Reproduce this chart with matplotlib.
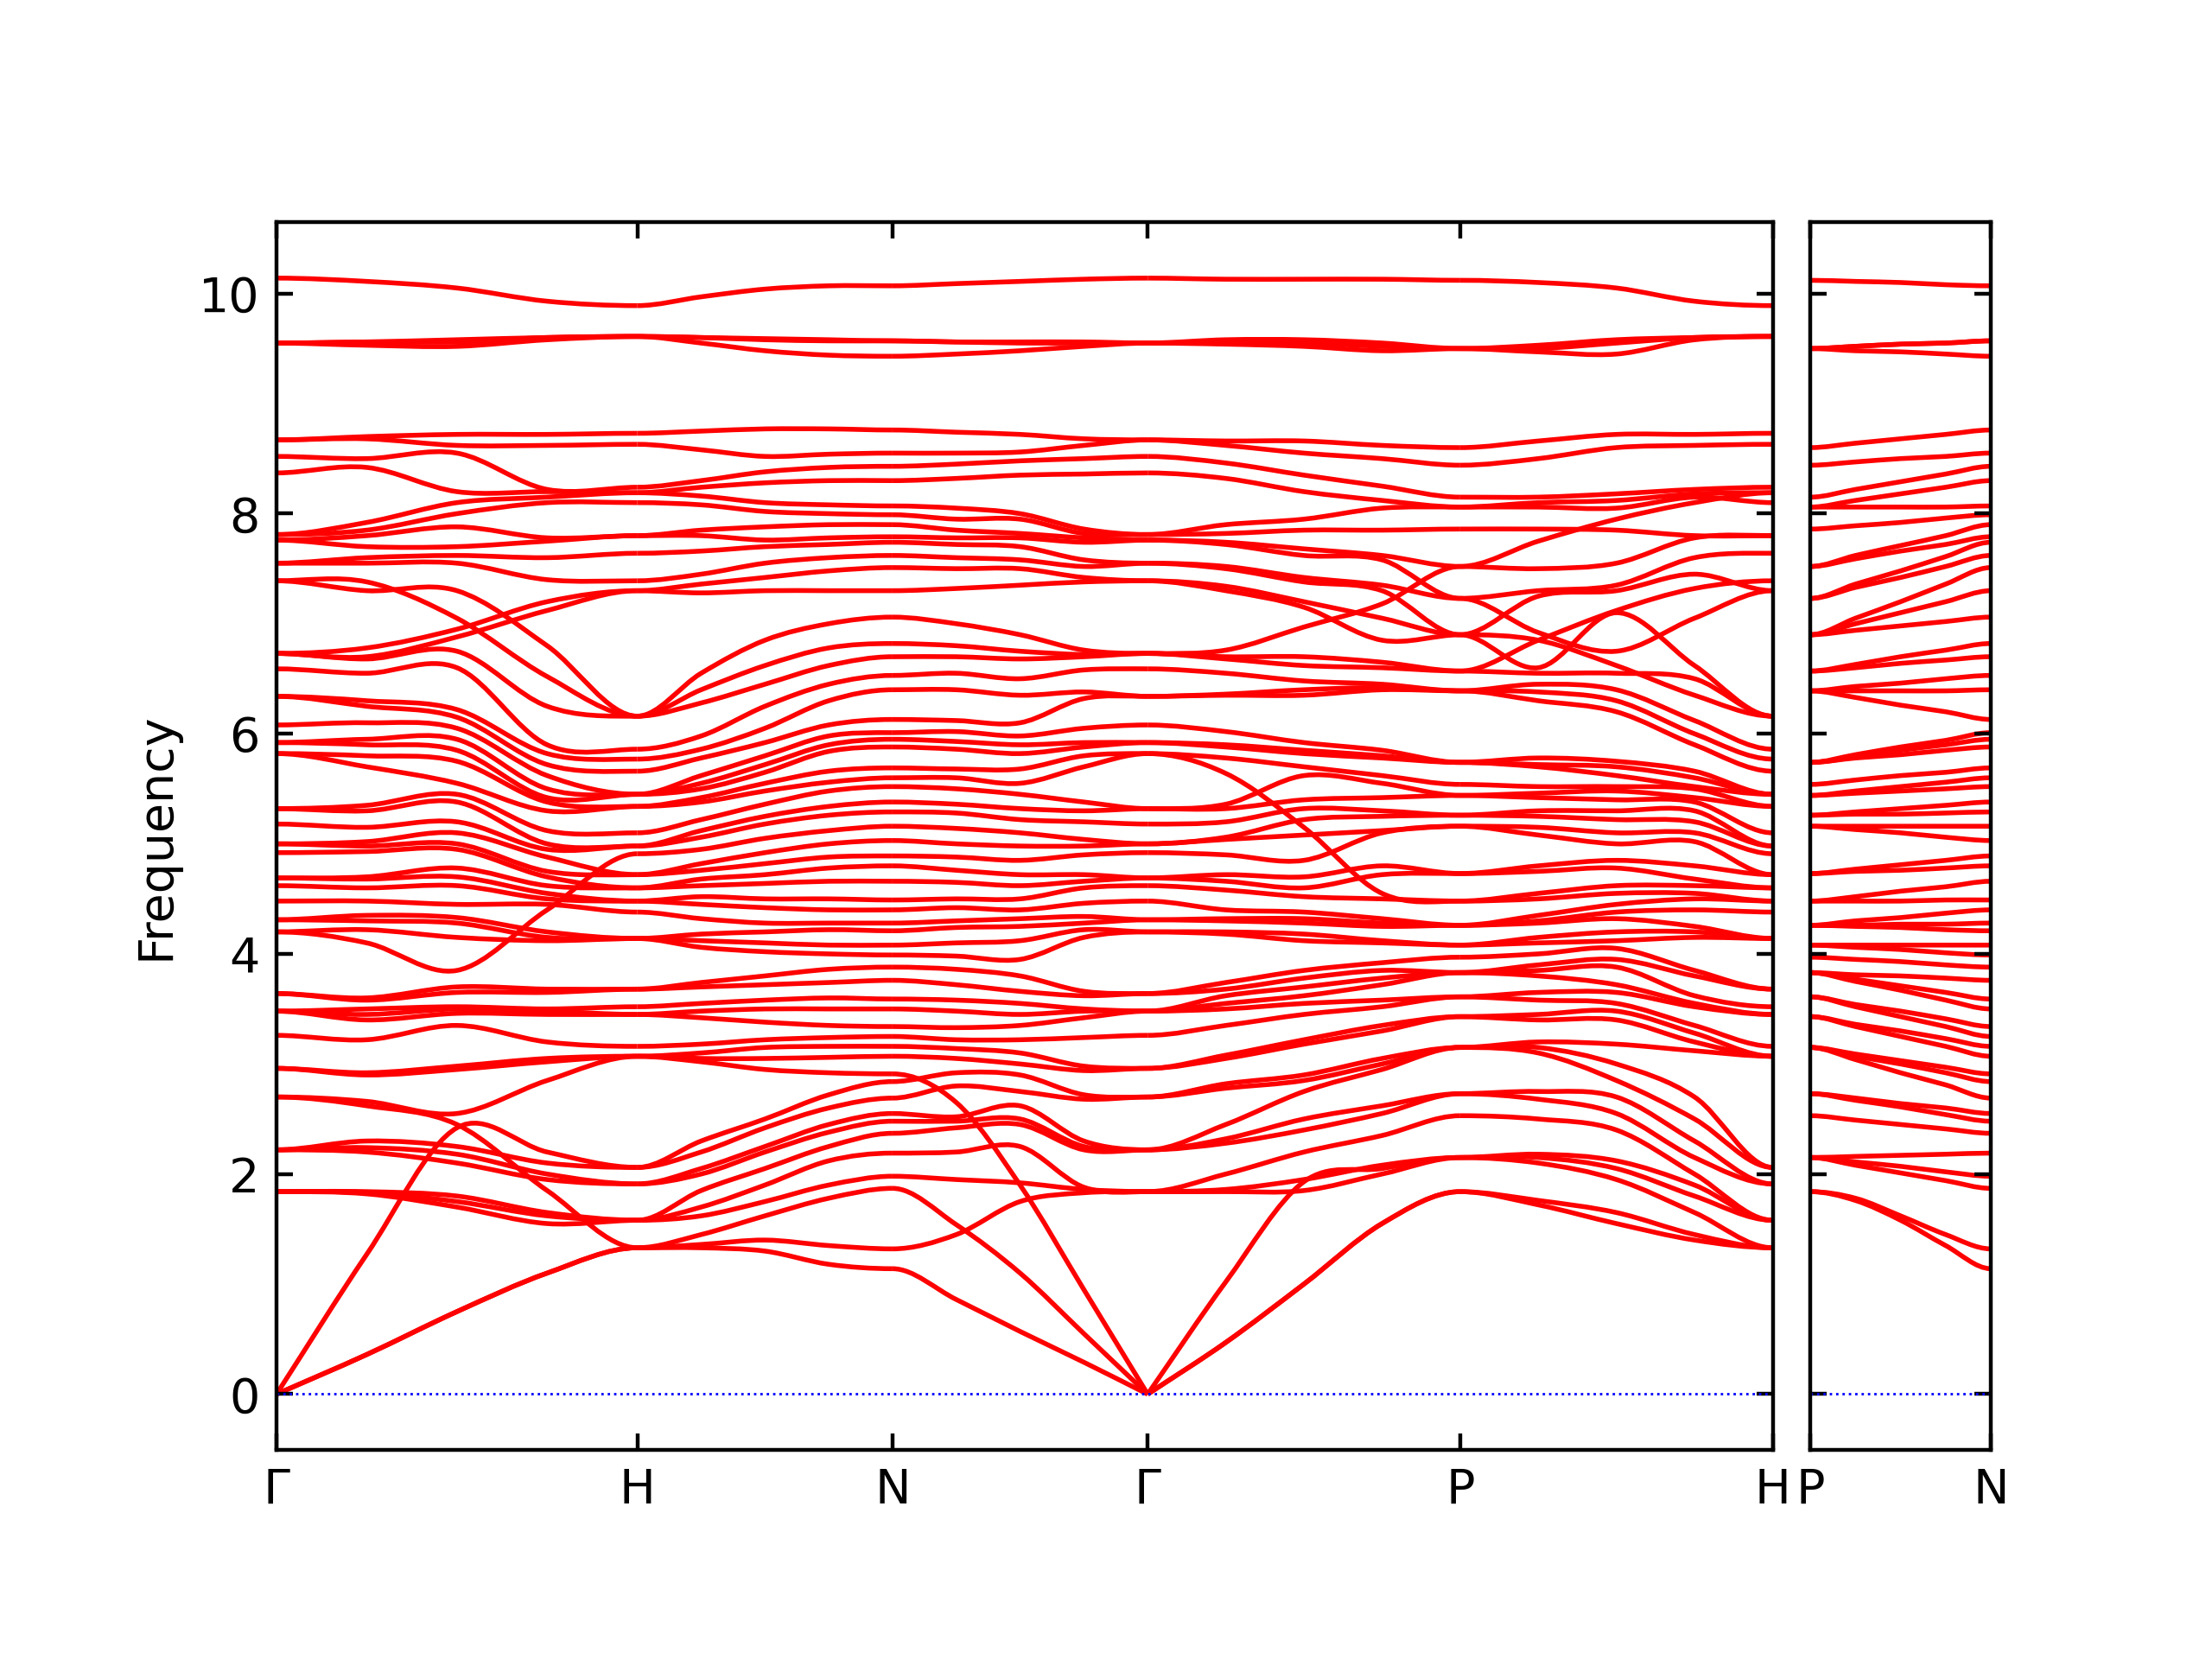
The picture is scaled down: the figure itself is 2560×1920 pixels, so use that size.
import numpy as np
import matplotlib
matplotlib.use("Agg")
import matplotlib.pyplot as plt
from matplotlib.gridspec import GridSpec
from matplotlib.path import Path
from matplotlib.patches import PathPatch

# path labels and segment lengths (2pi/a units, bcc)
main_labels = ["Γ", "H", "N", "Γ", "P", "H"]
side_labels = ["P", "N"]
main_seg_lengths = [1.0, 0.7071, 0.7071, 0.8660, 0.8660]
side_seg_lengths = [0.5]

# frequencies at high-symmetry points (60 bands each)
freq_G = [0, 0, 0, 1.84, 1.84, 1.84, 2.22, 2.22, 2.22, 2.70, 2.70, 2.96, 2.96, 3.26,
          3.48, 3.48, 3.48, 3.64, 3.64, 4.20, 4.20, 4.31, 4.31, 4.48, 4.62, 4.69, 4.69,
          4.92, 5.00, 5.00, 5.18, 5.32, 5.32, 5.82, 5.82, 5.92, 5.92, 6.08, 6.34, 6.34,
          6.59, 6.73, 6.73, 6.73, 7.39, 7.39, 7.55, 7.55, 7.76, 7.76, 7.81, 7.81, 8.37,
          8.52, 8.67, 8.67, 9.55, 9.55, 9.55, 10.14]
freq_H = [1.33, 1.33, 1.33, 1.58, 1.58, 1.58, 1.91, 1.91, 2.06, 2.06, 3.07, 3.07, 3.07,
          3.16, 3.45, 3.45, 3.52, 3.68, 3.68, 4.14, 4.14, 4.14, 4.38, 4.48, 4.48, 4.60,
          4.60, 4.72, 4.72, 4.91, 4.98, 4.98, 5.10, 5.34, 5.34, 5.45, 5.45, 5.45, 5.66,
          5.77, 5.86, 6.16, 6.16, 6.16, 7.30, 7.30, 7.39, 7.64, 7.80, 7.80, 8.10, 8.19,
          8.19, 8.24, 8.63, 8.73, 9.61, 9.61, 9.61, 9.89]
freq_N = [1.14, 1.32, 1.87, 1.98, 2.19, 2.37, 2.48, 2.55, 2.69, 2.84, 2.91, 3.07, 3.16,
          3.25, 3.34, 3.50, 3.59, 3.76, 3.88, 3.99, 4.08, 4.21, 4.28, 4.40, 4.49, 4.66,
          4.80, 4.89, 5.03, 5.16, 5.29, 5.38, 5.52, 5.60, 5.69, 5.88, 5.95, 6.01, 6.13,
          6.40, 6.53, 6.70, 6.82, 7.06, 7.30, 7.51, 7.62, 7.74, 7.79, 7.90, 7.99, 8.07,
          8.30, 8.43, 8.55, 8.76, 9.43, 9.57, 9.57, 10.07]
freq_P = [1.84, 1.84, 2.15, 2.15, 2.15, 2.53, 2.73, 2.73, 3.15, 3.15, 3.15, 3.43, 3.43,
          3.61, 3.61, 3.83, 3.83, 3.83, 3.97, 4.08, 4.08, 4.26, 4.26, 4.26, 4.48, 4.48,
          4.73, 4.73, 5.16, 5.16, 5.26, 5.26, 5.44, 5.44, 5.54, 5.74, 5.74, 5.74, 6.39,
          6.39, 6.39, 6.57, 6.57, 6.90, 6.90, 6.90, 7.23, 7.23, 7.52, 7.52, 7.86, 8.06,
          8.06, 8.15, 8.44, 8.60, 9.50, 9.50, 9.50, 10.12]

# frequencies read at 1/4, 1/2, 3/4 of each segment
freq_GH_1 = [0.36, 0.36, 1.27, 1.84, 1.83, 1.82, 2.24, 2.20, 2.30, 2.62, 2.66, 2.92, 2.90,
             3.22, 3.45, 3.50, 3.40, 3.60, 3.58, 4.10, 4.22, 4.30, 4.35, 4.48, 4.60, 4.70,
             4.68, 4.93, 5.02, 4.98, 5.15, 5.35, 5.30, 5.70, 5.80, 5.90, 5.95, 6.10, 6.30,
             6.25, 6.55, 6.70, 6.68, 6.78, 7.38, 7.30, 7.55, 7.60, 7.85, 7.70, 7.92, 7.80,
             8.42, 8.50, 8.68, 8.70, 9.53, 9.56, 9.56, 10.11]
freq_GH_2 = [0.75, 0.75, 2.42, 1.80, 1.75, 1.70, 2.18, 2.10, 2.25, 2.45, 2.55, 2.98, 2.95,
             3.35, 3.50, 3.52, 3.46, 3.65, 3.70, 3.85, 4.15, 4.28, 4.33, 4.45, 4.62, 4.70,
             4.78, 4.95, 5.00, 5.10, 5.20, 5.38, 5.45, 5.55, 5.75, 5.85, 5.95, 6.05, 6.22,
             6.15, 6.60, 6.95, 7.05, 6.88, 6.75, 7.30, 7.55, 7.62, 7.70, 7.88, 8.00, 8.10,
             8.20, 8.55, 8.62, 8.72, 9.52, 9.56, 9.58, 10.05]
freq_GH_3 = [1.10, 1.10, 1.85, 1.62, 1.55, 1.65, 2.00, 1.95, 2.10, 2.20, 2.85, 3.02, 3.05,
             3.20, 3.45, 3.48, 3.50, 3.65, 3.68, 4.15, 4.12, 4.20, 4.40, 4.45, 4.50, 4.55,
             4.62, 4.70, 4.75, 4.88, 4.95, 5.00, 5.12, 5.30, 5.38, 5.42, 5.50, 5.62, 5.72,
             5.82, 5.90, 6.25, 6.80, 6.52, 7.12, 7.20, 7.40, 7.60, 7.75, 7.78, 8.10, 8.15,
             8.20, 8.22, 8.62, 8.72, 9.58, 9.60, 9.60, 9.93]

freq_HN_1 = [1.36, 1.33, 1.45, 1.62, 1.70, 1.85, 2.05, 2.00, 2.20, 2.30, 3.02, 3.05, 3.10,
             3.18, 3.42, 3.48, 3.55, 3.70, 3.74, 4.06, 4.12, 4.18, 4.32, 4.45, 4.52, 4.62,
             4.68, 4.76, 4.82, 4.95, 5.06, 5.12, 5.22, 5.38, 5.42, 5.50, 5.55, 5.62, 5.78,
             5.86, 5.98, 6.28, 6.40, 6.55, 7.28, 7.36, 7.45, 7.66, 7.80, 7.85, 8.08, 8.16,
             8.24, 8.30, 8.58, 8.75, 9.55, 9.60, 9.60, 9.97]
freq_HN_2 = [1.30, 1.40, 1.62, 1.75, 1.90, 2.05, 2.20, 2.25, 2.42, 2.50, 2.95, 3.05, 3.15,
             3.22, 3.38, 3.50, 3.58, 3.72, 3.80, 4.02, 4.10, 4.20, 4.28, 4.42, 4.50, 4.64,
             4.72, 4.82, 4.92, 5.05, 5.18, 5.25, 5.36, 5.48, 5.55, 5.65, 5.72, 5.80, 5.92,
             6.05, 6.25, 6.45, 6.62, 6.85, 7.30, 7.42, 7.55, 7.70, 7.76, 7.88, 8.02, 8.10,
             8.28, 8.38, 8.52, 8.77, 9.48, 9.58, 9.59, 10.04]
freq_HN_3 = [1.18, 1.35, 1.78, 1.90, 2.12, 2.25, 2.38, 2.45, 2.60, 2.72, 2.92, 3.06, 3.16,
             3.24, 3.35, 3.50, 3.60, 3.74, 3.86, 4.00, 4.08, 4.22, 4.28, 4.40, 4.50, 4.66,
             4.78, 4.88, 5.00, 5.12, 5.26, 5.34, 5.48, 5.56, 5.66, 5.84, 5.90, 5.98, 6.08,
             6.30, 6.45, 6.62, 6.78, 7.00, 7.30, 7.48, 7.60, 7.72, 7.78, 7.90, 8.00, 8.08,
             8.30, 8.42, 8.54, 8.77, 9.44, 9.57, 9.58, 10.07]

freq_NG_1 = [0.86, 1.45, 1.54, 1.95, 2.20, 2.42, 2.48, 2.52, 2.65, 2.80, 2.92, 3.05, 3.14,
             3.22, 3.33, 3.48, 3.58, 3.72, 3.86, 3.98, 4.10, 4.24, 4.30, 4.42, 4.50, 4.65,
             4.76, 4.88, 5.00, 5.14, 5.28, 5.36, 5.50, 5.60, 5.68, 5.86, 5.93, 6.02, 6.12,
             6.40, 6.55, 6.70, 6.80, 7.00, 7.32, 7.50, 7.60, 7.72, 7.78, 7.85, 7.95, 8.05,
             8.32, 8.45, 8.55, 8.74, 9.45, 9.56, 9.56, 10.09]
freq_NG_2 = [0.57, 1.10, 1.75, 1.90, 1.92, 2.25, 2.45, 2.50, 2.62, 2.75, 2.90, 3.00, 3.10,
             3.22, 3.35, 3.45, 3.55, 3.66, 3.80, 3.95, 4.12, 4.25, 4.32, 4.40, 4.50, 4.62,
             4.72, 4.85, 4.98, 5.10, 5.22, 5.32, 5.45, 5.55, 5.68, 5.82, 5.90, 5.98, 6.10,
             6.35, 6.50, 6.68, 6.75, 6.90, 7.35, 7.50, 7.58, 7.70, 7.78, 7.82, 7.95, 8.00,
             8.35, 8.48, 8.56, 8.72, 9.48, 9.55, 9.56, 10.11]
freq_NG_3 = [0.29, 0.55, 0.95, 1.83, 1.86, 1.88, 2.22, 2.25, 2.30, 2.68, 2.72, 2.94, 2.98,
             3.24, 3.42, 3.48, 3.50, 3.62, 3.66, 4.15, 4.22, 4.28, 4.34, 4.46, 4.60, 4.66,
             4.72, 4.90, 4.98, 5.04, 5.20, 5.30, 5.38, 5.70, 5.80, 5.88, 5.92, 6.05, 6.32,
             6.38, 6.58, 6.70, 6.72, 6.76, 7.38, 7.42, 7.52, 7.58, 7.74, 7.78, 7.82, 7.86,
             8.36, 8.50, 8.62, 8.68, 9.52, 9.55, 9.56, 10.13]

freq_GP_1 = [0.47, 0.47, 1.02, 1.84, 1.86, 2.00, 2.28, 2.32, 2.45, 2.78, 2.82, 3.05, 3.08,
             3.35, 3.50, 3.55, 3.62, 3.68, 3.74, 4.18, 4.20, 4.30, 4.32, 4.40, 4.58, 4.66,
             4.72, 4.90, 5.04, 5.06, 5.20, 5.32, 5.36, 5.64, 5.78, 5.88, 5.90, 6.02, 6.35,
             6.36, 6.55, 6.68, 6.70, 6.76, 7.30, 7.34, 7.50, 7.52, 7.72, 7.74, 7.82, 7.90,
             8.32, 8.46, 8.62, 8.66, 9.54, 9.56, 9.58, 10.13]
freq_GP_2 = [1.00, 1.00, 1.93, 1.85, 1.95, 2.20, 2.40, 2.50, 2.75, 2.85, 2.90, 3.18, 3.22,
             3.45, 3.55, 3.62, 3.70, 3.78, 3.85, 4.12, 4.18, 4.28, 4.32, 4.38, 4.52, 4.60,
             4.70, 4.85, 5.08, 5.15, 5.22, 5.32, 5.40, 5.62, 5.70, 5.82, 5.85, 5.92, 6.35,
             6.40, 6.48, 6.62, 6.70, 6.97, 7.15, 7.20, 7.38, 7.42, 7.62, 7.68, 7.85, 7.95,
             8.20, 8.35, 8.55, 8.66, 9.52, 9.55, 9.58, 10.13]
freq_GP_3 = [1.55, 1.55, 2.05, 2.00, 2.08, 2.35, 2.55, 2.62, 2.95, 3.00, 3.05, 3.30, 3.35,
             3.52, 3.58, 3.72, 3.78, 3.85, 3.92, 4.10, 4.12, 4.25, 4.28, 4.32, 4.50, 4.55,
             4.72, 4.80, 5.10, 5.12, 5.25, 5.30, 5.42, 5.55, 5.62, 5.78, 5.80, 5.85, 6.40,
             6.42, 6.45, 6.60, 6.65, 6.85, 7.05, 7.18, 7.30, 7.35, 7.58, 7.62, 7.85, 8.05,
             8.12, 8.25, 8.50, 8.62, 9.48, 9.52, 9.55, 10.13]

freq_PH_1 = [1.76, 1.72, 2.10, 2.15, 2.18, 2.50, 2.68, 2.75, 3.10, 3.15, 3.20, 3.40, 3.45,
             3.58, 3.65, 3.80, 3.85, 3.90, 4.00, 4.10, 4.15, 4.28, 4.30, 4.35, 4.50, 4.55,
             4.75, 4.80, 5.08, 5.15, 5.25, 5.30, 5.42, 5.46, 5.52, 5.70, 5.72, 5.78, 6.30,
             6.38, 6.45, 6.55, 6.60, 6.85, 6.92, 6.85, 7.25, 7.30, 7.50, 7.75, 7.86, 8.06,
             8.10, 8.15, 8.50, 8.66, 9.47, 9.50, 9.53, 10.10]
freq_PH_2 = [1.55, 1.65, 1.95, 2.05, 2.12, 2.40, 2.55, 2.70, 2.85, 3.00, 3.18, 3.40, 3.48,
             3.55, 3.65, 3.72, 3.88, 3.95, 4.05, 4.12, 4.20, 4.32, 4.38, 4.45, 4.55, 4.62,
             4.78, 4.85, 5.00, 5.10, 5.22, 5.30, 5.40, 5.48, 5.52, 5.62, 5.70, 5.75, 6.20,
             6.30, 6.40, 6.55, 6.62, 6.75, 7.12, 7.10, 7.30, 7.35, 7.55, 7.95, 7.85, 8.05,
             8.12, 8.18, 8.60, 8.72, 9.45, 9.55, 9.58, 10.05]
freq_PH_3 = [1.40, 1.45, 1.65, 1.80, 1.90, 2.00, 2.15, 2.30, 2.50, 2.70, 3.12, 3.20, 3.28,
             3.35, 3.52, 3.55, 3.62, 3.80, 3.85, 4.15, 4.20, 4.25, 4.40, 4.50, 4.55, 4.62,
             4.68, 4.80, 5.02, 5.10, 5.20, 5.30, 5.38, 5.42, 5.50, 5.52, 5.60, 5.66, 5.90,
             6.00, 6.12, 6.35, 6.50, 6.62, 7.05, 7.32, 7.45, 7.60, 7.78, 7.80, 8.10, 8.15,
             8.18, 8.22, 8.62, 8.72, 9.58, 9.60, 9.60, 9.93]

freq_PN_1 = [1.76, 1.78, 2.08, 2.11, 2.16, 2.49, 2.67, 2.69, 3.04, 3.07, 3.09, 3.34, 3.36,
             3.52, 3.54, 3.75, 3.77, 3.81, 3.95, 4.06, 4.08, 4.25, 4.26, 4.30, 4.48, 4.52,
             4.75, 4.77, 5.13, 5.16, 5.27, 5.29, 5.46, 5.48, 5.58, 5.78, 5.79, 5.81, 6.33,
             6.39, 6.43, 6.60, 6.63, 6.94, 7.00, 7.05, 7.33, 7.36, 7.59, 7.62, 7.89, 8.06,
             8.12, 8.22, 8.47, 8.64, 9.48, 9.52, 9.52, 10.11]
freq_PN_2 = [1.58, 1.62, 2.01, 2.07, 2.17, 2.45, 2.61, 2.64, 2.92, 3.00, 3.03, 3.25, 3.30,
             3.43, 3.48, 3.67, 3.71, 3.80, 3.93, 4.04, 4.08, 4.24, 4.27, 4.33, 4.48, 4.57,
             4.76, 4.81, 5.10, 5.16, 5.27, 5.32, 5.48, 5.52, 5.62, 5.81, 5.85, 5.88, 6.26,
             6.39, 6.46, 6.64, 6.70, 6.98, 7.10, 7.20, 7.42, 7.48, 7.66, 7.71, 7.92, 8.06,
             8.18, 8.29, 8.50, 8.68, 9.47, 9.54, 9.54, 10.10]
freq_PN_3 = [1.35, 1.45, 1.94, 2.02, 2.18, 2.41, 2.54, 2.60, 2.81, 2.92, 2.97, 3.16, 3.23,
             3.34, 3.41, 3.58, 3.65, 3.78, 3.90, 4.01, 4.08, 4.22, 4.27, 4.37, 4.49, 4.61,
             4.78, 4.85, 5.06, 5.16, 5.28, 5.35, 5.50, 5.56, 5.65, 5.85, 5.90, 5.94, 6.20,
             6.39, 6.50, 6.67, 6.76, 7.02, 7.20, 7.36, 7.52, 7.61, 7.72, 7.80, 7.96, 8.06,
             8.24, 8.36, 8.52, 8.72, 9.45, 9.55, 9.55, 10.08]

# branches that cut across the others (values at the same five points of a segment)
la_GH = [0, 1.27, 2.42, 2.20, 2.06]
drop_GH = [2.70, 2.62, 2.45, 1.85, 1.33]
dip_GH = [4.20, 4.10, 3.85, 4.40, 4.91]
rise_GH_a = [6.73, 6.78, 6.95, 7.20, 7.30]
rise_GH_b = [6.73, 6.70, 6.88, 7.12, 7.30]
fall_GH = [7.39, 7.38, 7.05, 6.52, 6.16]
la_NG = [2.91, 2.65, 1.90, 0.95, 0]
ta_NG = [1.87, 1.54, 1.10, 0.55, 0]
la_GP = [0, 1.02, 1.93, 2.05, 2.15]
rise_GP = [6.73, 6.76, 6.97, 7.18, 7.52]
dip_GP = [5.82, 5.64, 5.15, 4.55, 4.48]
rise_PH = [7.52, 7.75, 7.95, 8.10, 8.19]
sag_PH = [7.23, 6.92, 6.75, 7.05, 7.30]
climb_PH = [6.57, 6.85, 7.12, 7.32, 7.39]
fall_PH = [6.90, 6.85, 6.62, 6.35, 6.16]

main_segments = [
    ([freq_G, freq_GH_1, freq_GH_2, freq_GH_3, freq_H],
     [la_GH, drop_GH, dip_GH, rise_GH_a, rise_GH_b, fall_GH]),
    ([freq_H, freq_HN_1, freq_HN_2, freq_HN_3, freq_N], []),
    ([freq_N, freq_NG_1, freq_NG_2, freq_NG_3, freq_G], [la_NG, ta_NG]),
    ([freq_G, freq_GP_1, freq_GP_2, freq_GP_3, freq_P], [la_GP, rise_GP, dip_GP]),
    ([freq_P, freq_PH_1, freq_PH_2, freq_PH_3, freq_H], [rise_PH, sag_PH, climb_PH, fall_PH]),
]
side_segments = [
    ([freq_P, freq_PN_1, freq_PN_2, freq_PN_3, freq_N], []),
]


def band_path(x, y):
    # smooth curve through the read points (cubic Bezier, Catmull-Rom tangents)
    n = len(x)
    m = np.zeros(n)
    m[1:-1] = (y[2:] - y[:-2]) / 2
    if abs(y[0]) < 1e-6:
        m[0] = y[1] - y[0]
    if abs(y[-1]) < 1e-6:
        m[-1] = y[-1] - y[-2]
    verts = [(x[0], y[0])]
    codes = [Path.MOVETO]
    for i in range(n - 1):
        h = x[i + 1] - x[i]
        verts += [(x[i] + h / 3, y[i] + m[i] / 3),
                  (x[i + 1] - h / 3, y[i + 1] - m[i + 1] / 3),
                  (x[i + 1], y[i + 1])]
        codes += [Path.CURVE4] * 3
    return Path(verts, codes)


def draw_segments(ax, segments, lengths):
    start = 0.0
    for (cols, branches), length in zip(segments, lengths):
        qx = start + length * np.linspace(0, 1, len(cols))
        rest = []
        for k, col in enumerate(cols):
            c = list(col)
            for br in branches:
                c.pop(int(np.argmin(np.abs(np.array(c) - br[k]))))
            rest.append(np.sort(c))
        rest = np.array(rest)
        lines = [rest[:, j] for j in range(rest.shape[1])] + [np.array(b, float) for b in branches]
        for y in lines:
            ax.add_patch(PathPatch(band_path(qx, y), fill=False, edgecolor="r", lw=1.0))
        start += length
    return np.concatenate([[0], np.cumsum(lengths)])


plt.rcParams["font.size"] = 10
fig = plt.figure(figsize=(6.4, 4.8), dpi=400)
gs = GridSpec(1, 2, width_ratios=[sum(main_seg_lengths), sum(side_seg_lengths)],
              wspace=0.045, left=0.125, right=0.9, bottom=0.126, top=0.866)
ax1 = fig.add_subplot(gs[0])
ax2 = fig.add_subplot(gs[1], sharey=ax1)

ymax = 10.14
ylim = (-0.05 * ymax, ymax * 1.05)

for ax, segs, lengths, labels in [(ax1, main_segments, main_seg_lengths, main_labels),
                                  (ax2, side_segments, side_seg_lengths, side_labels)]:
    ticks = draw_segments(ax, segs, lengths)
    ax.axhline(0, color="b", ls=":", lw=0.5)
    ax.set_xlim(ticks[0], ticks[-1])
    ax.set_xticks(ticks)
    ax.set_xticklabels(labels)
    ax.tick_params(direction="in", top=True, right=True)

ax1.set_ylim(*ylim)
ax1.set_yticks([0, 2, 4, 6, 8, 10])
ax1.set_ylabel("Frequency")
plt.setp(ax2.get_yticklabels(), visible=False)

fig.savefig("out.png", dpi=400)
